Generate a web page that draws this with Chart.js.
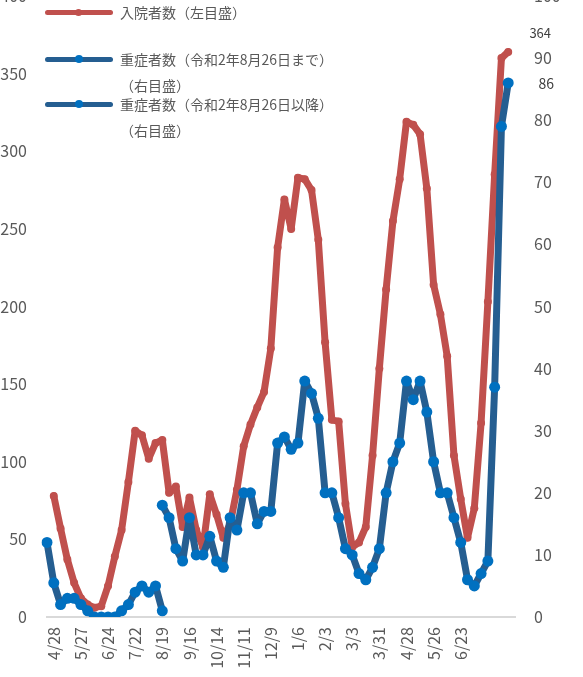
<!DOCTYPE html>
<html lang="ja">
<head>
<meta charset="UTF-8">
<title>入院者数・重症者数</title>
<style>
  body { margin: 0; background: #fff; overflow: hidden; }
  #wrap { position: relative; width: 583px; height: 677px; overflow: hidden; font-family: "Noto Sans CJK JP", "Noto Sans", sans-serif; }
  #chart { position: absolute; left: -20px; top: -40px; }
  .lg { position: absolute; color: #595959; font-size: 14px; line-height: 16px; white-space: nowrap; }
  .sw { position: absolute; height: 5px; border-radius: 3px; }
  .dot { position: absolute; border-radius: 50%; }
</style>
<script src="https://cdn.jsdelivr.net/npm/chart.js"></script>
</head>
<body>
<div id="wrap">
  <canvas id="chart" width="603" height="737"></canvas>

  <!-- legend -->
  <div class="sw" style="left:45px; top:10px; width:68px; background:#C0504D"></div>
  <div class="dot" style="left:75px; top:9px; width:7px; height:7px; background:#C0504D"></div>
  <div class="lg" style="left:120px; top:4px">入院者数（左目盛）</div>

  <div class="sw" style="left:45px; top:57px; width:68px; background:#255E91"></div>
  <div class="dot" style="left:75px; top:55px; width:8px; height:8px; background:#0070C0"></div>
  <div class="lg" style="left:120px; top:51px">重症者数（令和2年8月26日まで）</div>
  <div class="lg" style="left:120px; top:77px">（右目盛）</div>

  <div class="sw" style="left:45px; top:102px; width:68px; background:#255E91"></div>
  <div class="dot" style="left:75px; top:100px; width:8px; height:8px; background:#0070C0"></div>
  <div class="lg" style="left:120px; top:96px">重症者数（令和2年8月26日以降）</div>
  <div class="lg" style="left:120px; top:122px">（右目盛）</div>
</div>

<script>
  // weekly categories, only every 4th week is labelled
  const categories = [
    '',
    '4/28', '', '', '',
    '5/27', '', '', '',
    '6/24', '', '', '',
    '7/22', '', '', '',
    '8/19', '', '', '',
    '9/16', '', '', '',
    '10/14', '', '', '',
    '11/11', '', '', '',
    '12/9', '', '', '',
    '1/6', '', '', '',
    '2/3', '', '', '',
    '3/3', '', '', '',
    '3/31', '', '', '',
    '4/28', '', '', '',
    '5/26', '', '', '',
    '6/23', '', '', '',
    '', '', '', '', ''
  ];

  // 入院者数 (left axis)
  const hospitalized = [
    null, 78, 57, 37, 22, 12, 8, 6, 7, 20,
    39, 56, 87, 120, 117, 102, 112, 114, 80, 84,
    58, 77, 56, 45, 79, 66, 51, 60, 82, 110,
    124, 135, 145, 173, 238, 269, 250, 283, 282, 275,
    243, 177, 127, 126, 73, 45, 48, 58, 104, 160,
    211, 255, 282, 319, 317, 311, 276, 214, 195, 168,
    104, 76, 51, 70, 125, 203, 285, 360, 364
  ];

  // 重症者数 until 2020/8/26 (right axis)
  const severeOld = [
    12, 5.5, 2, 3, 3, 2, 1, 0, 0, 0,
    0, 1, 2, 4, 5, 4, 5, 1
  ];

  // 重症者数 from 2020/8/26 (right axis)
  const severeNew = [
    null, null, null, null, null, null, null, null, null, null,
    null, null, null, null, null, null, null, 18, 16, 11,
    9, 16, 10, 10, 13, 9, 8, 16, 14, 20,
    20, 15, 17, 17, 28, 29, 27, 28, 38, 36,
    32, 20, 20, 16, 11, 10, 7, 6, 8, 11,
    20, 25, 28, 38, 35, 38, 33, 25, 20, 20,
    16, 12, 6, 5, 7, 9, 37, 79, 86
  ];

  const leftTicks = { min: 0, max: 400, step: 50 };
  const rightTicks = { min: 0, max: 100, step: 10 };

  const tickFont = { family: '"Noto Sans CJK JP", "Noto Sans", sans-serif', size: 16 };
  const grey = '#595959';

  // end labels (latest values)
  const endLabels = {
    id: 'endLabels',
    afterDatasetsDraw(chart) {
      const ctx = chart.ctx;
      const x = chart.scales.x, yl = chart.scales.y, yr = chart.scales.y1;
      const i = hospitalized.length - 1;
      const j = severeNew.length - 1;
      ctx.save();
      ctx.fillStyle = '#404040';
      ctx.textAlign = 'center';
      ctx.textBaseline = 'middle';
      ctx.font = '13px "Noto Sans CJK JP", "Noto Sans", sans-serif';
      ctx.fillText(String(hospitalized[i]), x.getPixelForValue(i) + 32, yl.getPixelForValue(hospitalized[i]) - 19);
      ctx.font = '14px "Noto Sans CJK JP", "Noto Sans", sans-serif';
      ctx.fillText(String(severeNew[j]), x.getPixelForValue(j) + 38, yr.getPixelForValue(severeNew[j]) + 1);
      ctx.restore();
    }
  };

  new Chart(document.getElementById('chart'), {
    type: 'line',
    data: {
      labels: categories,
      datasets: [
        {
          label: '入院者数（左目盛）',
          data: hospitalized,
          yAxisID: 'y',
          borderColor: '#C0504D',
          backgroundColor: '#C0504D',
          borderWidth: 7,
          pointRadius: 4,
          pointBorderWidth: 0,
          order: 3
        },
        {
          label: '重症者数（令和2年8月26日まで）（右目盛）',
          data: severeOld,
          yAxisID: 'y1',
          borderColor: '#255E91',
          backgroundColor: '#0070C0',
          borderWidth: 7,
          pointRadius: 5.5,
          pointBorderWidth: 0,
          order: 2
        },
        {
          label: '重症者数（令和2年8月26日以降）（右目盛）',
          data: severeNew,
          yAxisID: 'y1',
          borderColor: '#255E91',
          backgroundColor: '#0070C0',
          borderWidth: 7,
          pointRadius: 5.5,
          pointBorderWidth: 0,
          order: 1
        }
      ]
    },
    options: {
      responsive: false,
      animation: false,
      devicePixelRatio: 1,
      layout: { padding: { top: 36, left: 0, right: 0, bottom: 0 } },
      elements: {
        line: { tension: 0, borderJoinStyle: 'round', borderCapStyle: 'round' }
      },
      plugins: { legend: { display: false }, tooltip: { enabled: false } },
      scales: {
        x: {
          type: 'category',
          offset: false,
          grid: { display: false, drawTicks: false },
          border: { display: true, color: '#D9D9D9', width: 2 },
          ticks: { autoSkip: false, minRotation: 90, maxRotation: 90, padding: 10, color: grey, font: tickFont },
          afterFit(s) { s.height = 80; }
        },
        y: {
          position: 'left',
          min: leftTicks.min, max: leftTicks.max,
          grid: { display: false, drawTicks: false },
          border: { display: false },
          ticks: { stepSize: leftTicks.step, padding: 20, color: grey, font: tickFont },
          afterFit(s) { s.width = 67; }
        },
        y1: {
          position: 'right',
          min: rightTicks.min, max: rightTicks.max,
          grid: { display: false, drawTicks: false },
          border: { display: false },
          ticks: { stepSize: rightTicks.step, padding: 19, color: grey, font: tickFont },
          afterFit(s) { s.width = 68; }
        }
      }
    },
    plugins: [endLabels]
  });
</script>
</body>
</html>
